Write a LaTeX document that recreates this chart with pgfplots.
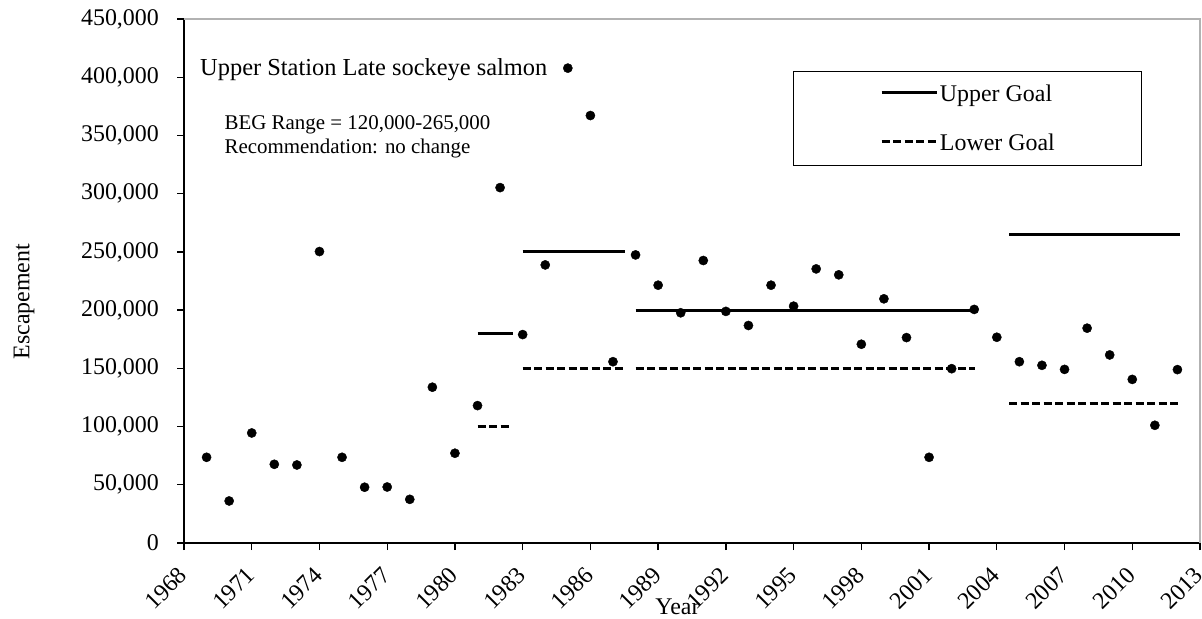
\documentclass[border=0pt]{standalone}
\usepackage{pgfplots}
\pgfplotsset{compat=1.18}
\usepackage{fontspec}
\setmainfont{Liberation Serif}
\begin{document}
\begin{tikzpicture}
\begin{axis}[
  name=ax,
  scale only axis, width=1016bp, height=524bp,
  xmin=1968, xmax=2013, ymin=0, ymax=450000,
  xtick={1968,1971,...,2013},
  ytick={0,50000,...,450000},
  axis x line*=bottom, axis y line*=left,
  axis line style={black, line width=1.6bp, -},
  tick align=outside, major tick length=7bp,
  tick style={black, line width=1.3bp},
  clip=false,
  /pgf/number format/assume math mode=true,
  scaled y ticks=false,
  yticklabel style={xshift=-18bp, font=\fontsize{24}{28}\selectfont, inner sep=0pt,
    /pgf/number format/1000 sep={,}, /pgf/number format/fixed},
  xticklabel style={xshift=-1bp, yshift=-21bp, rotate=45, anchor=east,
    font=\fontsize{24}{28}\selectfont, inner sep=0pt,
    /pgf/number format/1000 sep={}},
  xlabel={Year},
  xlabel style={at={(rel axis cs:0.4857,0)}, anchor=base, yshift=-71bp, font=\fontsize{24}{28}\selectfont, inner sep=0pt},
  ylabel={Escapement},
  ylabel style={at={(rel axis cs:0,0.4605)}, anchor=center, yshift=160bp, font=\fontsize{24}{28}\selectfont, inner sep=0pt},
  legend style={at={(rel axis cs:0.5994,0.9013)}, anchor=north west, draw=black, line width=1.3bp,
    font=\fontsize{24}{28}\selectfont, inner xsep=86.5bp, inner ysep=13.4bp,
    row sep=31bp, column sep=2bp, nodes={inner sep=0pt}},
  legend cell align=left,
  legend image code/.code={\draw[#1, line width=2.8bp] (0bp,1bp) -- (55bp,1bp);},
]
\draw[gray!60, line width=1.2bp] (rel axis cs:0,1) -- (rel axis cs:1,1) -- (rel axis cs:1,0);

\addplot[only marks, mark=*, mark size=4.6bp, black, forget plot] table {
x y
1969 73600
1970 36100
1971 94500
1972 67600
1973 67000
1974 250300
1975 73600
1976 47900
1977 48100
1978 37500
1979 133800
1980 77100
1981 118000
1982 305200
1983 179000
1984 238800
1985 407800
1986 367100
1987 155700
1988 247400
1989 221400
1990 197700
1991 242600
1992 198900
1993 186800
1994 221400
1995 203400
1996 235400
1997 230300
1998 170700
1999 209700
2000 176400
2001 73600
2002 149700
2003 200600
2004 176700
2005 155700
2006 152600
2007 149100
2008 184500
2009 161500
2010 140500
2011 101100
2012 148900
};

\addplot[black, line width=2.8bp, unbounded coords=jump, mark=none] coordinates {
(1981,180000) (1982.55,180000) (1982.55,nan)
(1983,250000) (1987.55,250000) (1987.55,nan)
(1988,200000) (2003.05,200000) (2003.05,nan)
(2004.55,265000) (2012.1,265000)
};
\addlegendentry{Upper Goal}
\addplot[black, line width=2.8bp, dash pattern=on 8bp off 3.5bp, unbounded coords=jump, mark=none] coordinates {
(1981,100000) (1982.5,100000) (1982.5,nan)
(1983,150000) (1987.55,150000) (1987.55,nan)
(1988,150000) (2003.05,150000) (2003.05,nan)
(2004.55,120000) (2012.1,120000)
};
\addlegendentry{Lower Goal}

\node[anchor=base west, inner sep=0pt, font=\fontsize{24.5}{28}\selectfont] at (axis cs:1968.71,401200) {Upper Station Late sockeye salmon};
\node[anchor=base west, inner sep=0pt, font=\fontsize{21}{24}\selectfont] at (axis cs:1969.79,355400) {BEG Range = 120,000-265,000};
\node[anchor=base west, inner sep=0pt, font=\fontsize{21}{24}\selectfont] at (axis cs:1969.79,334800) {Recommendation: no change};
\end{axis}
\pgfresetboundingbox
\path[use as bounding box] ([xshift=-184bp,yshift=-75bp]ax.south west) rectangle ([xshift=2bp,yshift=19bp]ax.north east);
\end{tikzpicture}
\end{document}
